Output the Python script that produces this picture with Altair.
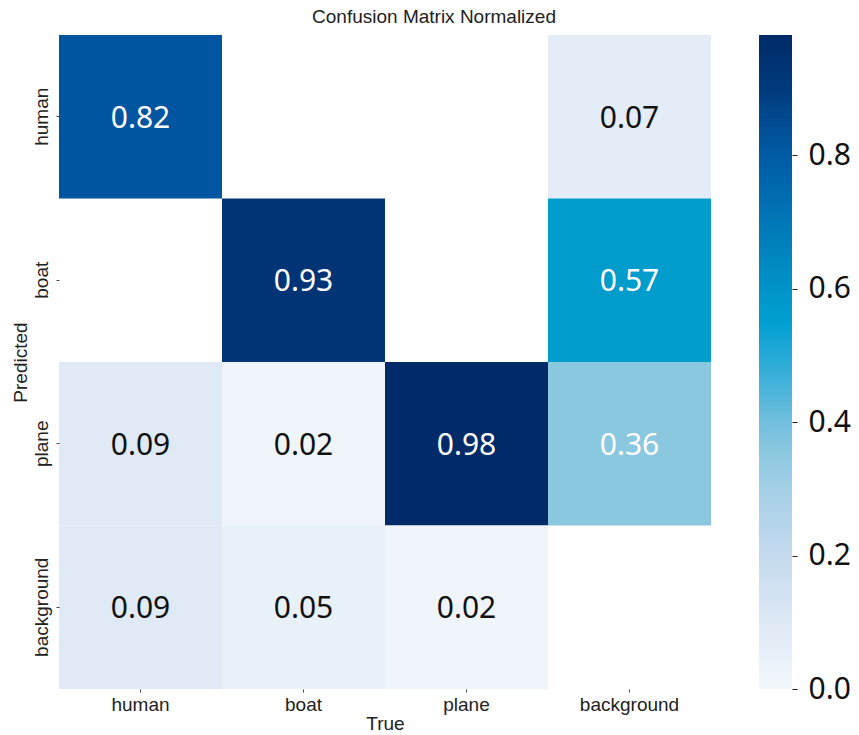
import altair as alt
import pandas as pd

# Class labels (true along x, predicted along y)
classes = ["human", "boat", "plane", "background"]

# Non-zero cells of the normalized confusion matrix
true_labels = ["human", "background",
               "boat", "background",
               "human", "boat", "plane", "background",
               "human", "boat", "plane"]
pred_labels = ["human", "human",
               "boat", "boat",
               "plane", "plane", "plane", "plane",
               "background", "background", "background"]
values = [0.82, 0.07,
          0.93, 0.57,
          0.09, 0.02, 0.98, 0.36,
          0.09, 0.05, 0.02]

# Colour ramp stops for the sequential blue map
ramp_domain = [0.0, 0.1, 0.2, 0.3, 0.36, 0.45, 0.52, 0.57, 0.7, 0.82, 0.9, 0.98]
ramp_colors = ["#f4f8fc", "#dde9f5", "#c4daee", "#a3cfe6", "#8ac8e0", "#4ab4da",
               "#00a4d6", "#009ccc", "#0077b6", "#0055a0", "#003a7c", "#002a68"]
colorbar_ticks = [0.0, 0.2, 0.4, 0.6, 0.8]

df = pd.DataFrame({"True": true_labels, "Predicted": pred_labels, "value": values})
ticks_df = pd.DataFrame({"tick": colorbar_ticks})

x_enc = alt.X("True:N", sort=classes, scale=alt.Scale(domain=classes, paddingInner=0, paddingOuter=0),
              axis=alt.Axis(title="True", labelAngle=0, labelFontSize=19, labelFont="Liberation Sans",
                            labelColor="#222222", tickSize=3, tickColor="#444444", domain=False,
                            labelPadding=3, titleFontSize=19, titleFontWeight="normal",
                            titleFont="Liberation Sans", titleColor="#222222", titlePadding=0))
y_enc = alt.Y("Predicted:N", sort=classes, scale=alt.Scale(domain=classes, paddingInner=0, paddingOuter=0),
              axis=alt.Axis(title="Predicted", labelAngle=270, labelAlign="center", labelBaseline="bottom",
                            labelFontSize=19, labelFont="Liberation Sans", labelColor="#222222",
                            tickSize=3, tickColor="#444444", domain=False, labelPadding=5,
                            titleFontSize=19, titleFontWeight="normal", titleFont="Liberation Sans",
                            titleColor="#222222", titlePadding=2))

# Heatmap cells; the gradient legend serves as the colour bar strip
cells = alt.Chart(df).mark_rect().encode(
    x=x_enc,
    y=y_enc,
    color=alt.Color("value:Q",
                    scale=alt.Scale(domain=ramp_domain, range=ramp_colors, type="linear"),
                    legend=alt.Legend(title=None, orient="none", legendX=700, legendY=0,
                                      direction="vertical", gradientLength=654,
                                      gradientThickness=33, values=colorbar_ticks,
                                      labelOpacity=0, padding=0, gradientStrokeWidth=0)),
)

labels = alt.Chart(df).mark_text(font="Noto Sans", fontSize=30, baseline="middle", dy=2).encode(
    x=alt.X("True:N", sort=classes),
    y=alt.Y("Predicted:N", sort=classes),
    text=alt.Text("value:Q", format=".2f"),
    color=alt.condition(alt.datum.value > 0.3, alt.value("#ffffff"), alt.value("#111111")),
)

heatmap = alt.layer(cells, labels)

# Colour bar tick marks and labels, drawn by a right-hand axis over the same value range
colorbar_axis = alt.Chart(ticks_df).mark_point(opacity=0).encode(
    x=alt.value(0),
    y=alt.Y("tick:Q", scale=alt.Scale(domain=[0, 0.98], nice=False, zero=False),
            axis=alt.Axis(orient="right", offset=81, values=colorbar_ticks, format=".1f",
                          labelFontSize=30, labelFont="Noto Sans", labelColor="#111111",
                          labelPadding=11, tickSize=5, tickColor="#222222", tickWidth=1,
                          domain=False, grid=False, title=None, labelBaseline="middle")),
)

chart = alt.layer(heatmap, colorbar_axis).resolve_scale(y="independent").properties(
    width=652,
    height=654,
    title=alt.TitleParams("Confusion Matrix Normalized", fontSize=19, fontWeight="normal",
                          font="Liberation Sans", color="#222222", anchor="middle",
                          offset=8, dx=49),
    autosize=alt.AutoSizeParams(type="none"),
    padding={"left": 59, "top": 35, "right": 148, "bottom": 46},
).configure_view(stroke=None)

chart.save("out.html", embed_options={"renderer": "svg", "actions": False})
